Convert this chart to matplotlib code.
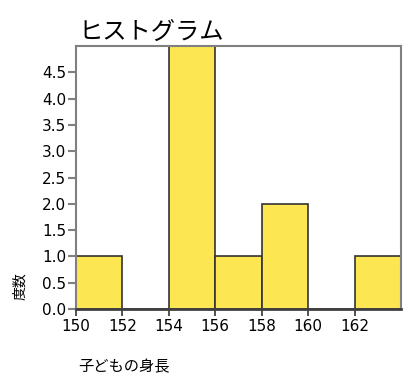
import matplotlib
matplotlib.use("Agg")
import matplotlib.pyplot as plt
import numpy as np

plt.rcParams['font.family'] = ['DejaVu Sans', 'Noto Sans CJK JP']

bin_edges = [150, 152, 154, 156, 158, 160, 162, 164]
counts = [1, 0, 5, 1, 2, 0, 1]
x_ticks = [150, 152, 154, 156, 158, 160, 162]
y_ticks = [0.0, 0.5, 1.0, 1.5, 2.0, 2.5, 3.0, 3.5, 4.0, 4.5]

fig = plt.figure(figsize=(4.08, 3.76), dpi=100)
ax = fig.add_axes([76/408, 1-309/376, 325/408, 263/376])

widths = np.diff(bin_edges)
ax.bar(bin_edges[:-1], counts, width=widths, align='edge',
       color='#fce651', edgecolor='#333333', linewidth=1.2, zorder=2)

ax.set_xlim(150, 164)
ax.set_ylim(0, 5)
ax.set_xticks(x_ticks)
ax.set_yticks(y_ticks)
ax.set_yticklabels([f"{v:.1f}" for v in y_ticks])

for s in ['left', 'top', 'right']:
    ax.spines[s].set_color('#808080')
    ax.spines[s].set_linewidth(1.5)
ax.spines['bottom'].set_color('#404040')
ax.spines['bottom'].set_linewidth(2)

ax.tick_params(axis='y', direction='out', length=6, width=1.5, color='#808080',
               labelsize=11, pad=1)
ax.tick_params(axis='x', direction='out', length=5, width=1.2, color='#333333',
               labelsize=11, pad=2)

fig.text(78/408, 1-32/376, "ヒストグラム", fontsize=17.5, ha='left', va='center',
         family=['Noto Sans CJK JP'])
fig.text(78/408, 1-367/376, "子どもの身長", fontsize=11, ha='left', va='center',
         family=['Noto Sans CJK JP'])
fig.text(20/408, 1-286/376, "度数", fontsize=10, ha='center', va='center',
         rotation=90, family=['Noto Sans CJK JP'])

fig.savefig("out.png", dpi=100)
